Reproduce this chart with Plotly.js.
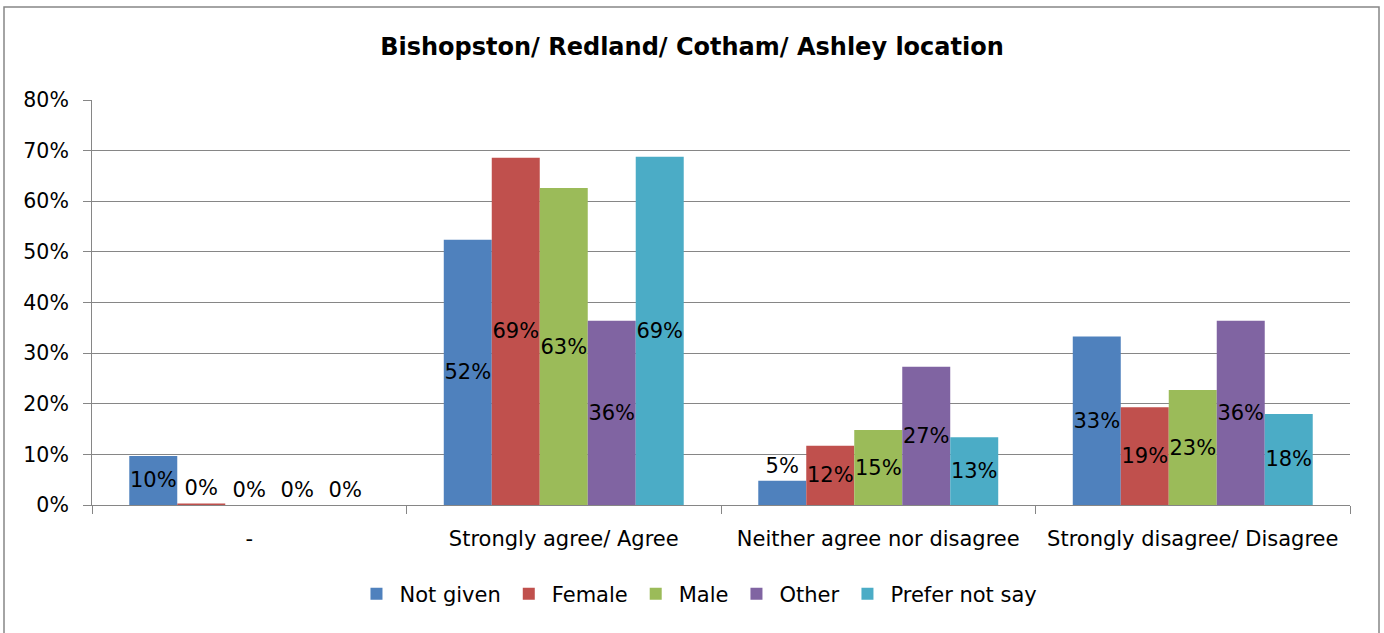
<!DOCTYPE html>
<html>
<head>
<meta charset="utf-8">
<script src="https://cdn.plot.ly/plotly-3.0.1.min.js"></script>
<style>html,body{margin:0;padding:0;background:#fff;}#chart{width:1384px;height:633px;}</style>
</head>
<body>
<div id="chart"></div>
<script>
const categories = ["-", "Strongly agree/ Agree", "Neither agree nor disagree", "Strongly disagree/ Disagree"];
const seriesNames = ["Not given", "Female", "Male", "Other", "Prefer not say"];
const notGiven = [0.097, 0.524, 0.048, 0.333];
const female = [0.003, 0.686, 0.117, 0.193];
const male = [0, 0.626, 0.148, 0.227];
const other = [0, 0.364, 0.273, 0.364];
const preferNotSay = [0, 0.688, 0.134, 0.180];
const yTickVals = [0, 0.1, 0.2, 0.3, 0.4, 0.5, 0.6, 0.7, 0.8];

const colors = ["#4F81BD", "#C0504D", "#9BBB59", "#8064A2", "#4BACC6"];
const allValues = [notGiven, female, male, other, preferNotSay];
const FONT = "'DejaVu Sans', sans-serif";
const GAP = 0.237;
const LBL = 21;

const barTraces = allValues.map((vals, i) => ({
  type: "bar",
  name: seriesNames[i],
  x: categories,
  y: vals,
  marker: {color: colors[i]},
  texttemplate: "%{y:.0%}",
  textposition: vals.map(v => v >= 0.06 ? "inside" : "outside"),
  textangle: 0,
  insidetextanchor: "middle",
  constraintext: "none",
  cliponaxis: false,
  textfont: {family: FONT, size: LBL, color: "#000"},
  insidetextfont: {family: FONT, size: LBL, color: "#000"},
  outsidetextfont: {family: FONT, size: LBL, color: "#000"},
  hoverinfo: "skip"
}));

const layout = {
  width: 1384,
  height: 633,
  paper_bgcolor: "#fff",
  plot_bgcolor: "#fff",
  margin: {l: 92, r: 34, t: 100, b: 128, autoexpand: false},
  font: {family: FONT, size: 20, color: "#000"},
  title: {
    text: "<b>Bishopston/ Redland/ Cotham/ Ashley location</b>",
    x: 0.5, xref: "container", xanchor: "center",
    y: 1 - 47/633, yref: "container", yanchor: "middle",
    font: {family: FONT, size: 24, color: "#000"}
  },
  barmode: "group",
  bargap: GAP,
  bargroupgap: 0,
  showlegend: true,
  legend: {
    orientation: "h",
    x: 0.4817, xanchor: "center",
    y: -0.22, yanchor: "middle",
    font: {family: FONT, size: 21, color: "#000"},
    itemwidth: 36,
    traceorder: "normal"
  },
  xaxis: {
    type: "category",
    tickson: "boundaries",
    ticks: "outside",
    ticklen: 8,
    tickcolor: "#868686",
    ticklabelstandoff: 15,
    showline: true,
    linecolor: "#868686",
    linewidth: 1,
    showgrid: false,
    tickangle: 0,
    tickfont: {family: FONT, size: 21, color: "#000"},
    fixedrange: true
  },
  yaxis: {
    range: [0, 0.8],
    tickvals: yTickVals,
    tickformat: ".0%",
    ticks: "outside",
    ticklen: 8,
    tickcolor: "#868686",
    ticklabelstandoff: 10,
    showline: true,
    linecolor: "#868686",
    linewidth: 1,
    showgrid: true,
    gridcolor: "#868686",
    gridwidth: 1,
    zeroline: false,
    tickfont: {family: FONT, size: 20.5, color: "#000"},
    fixedrange: true
  },
  shapes: [{
    type: "rect", xref: "paper", yref: "paper",
    x0: -88/1258, x1: 1 + 29/1258,
    y0: -135/405, y1: 1 + 93/405,
    line: {color: "#868686", width: 1.5},
    fillcolor: "rgba(0,0,0,0)",
    layer: "below"
  }]
};

Plotly.newPlot("chart", barTraces, layout, {displayModeBar: false, staticPlot: true});
</script>
</body>
</html>
